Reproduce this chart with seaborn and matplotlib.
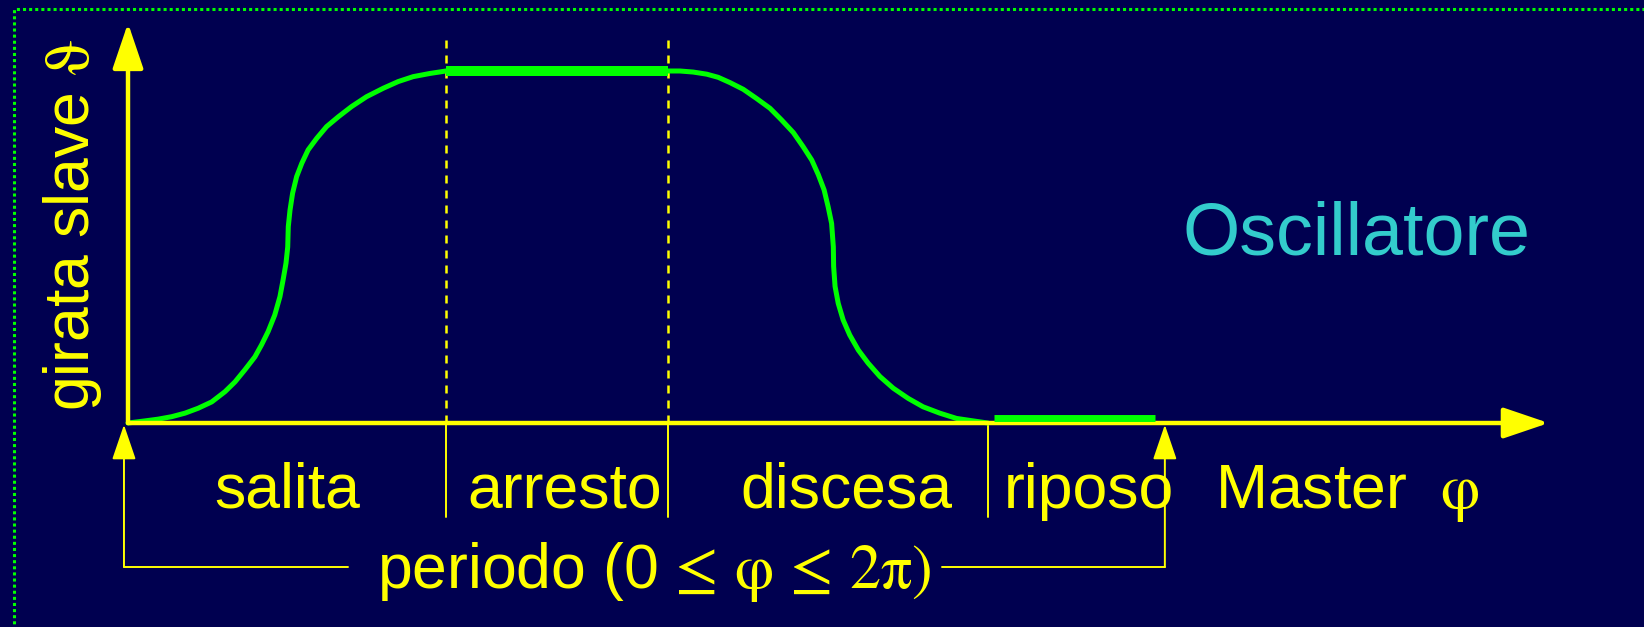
import matplotlib
matplotlib.use("Agg")
import matplotlib.pyplot as plt
import pandas as pd
import seaborn as sns
from matplotlib.patches import Rectangle

# master angle phi (deg) and slave lift (normalised)
salita_phi = [0, 5.9, 10.5, 15.2, 19.8, 24.4, 29.1, 33.7, 37.2, 40.6, 44.1, 46.4,
              48.7, 51.0, 52.8, 53.9, 54.9, 55.5,
              55.7, 56.3, 57.2, 58.6, 60.4, 62.6, 65.6, 69.0, 73.1, 77.7, 82.9,
              88.7, 93.9, 99.1, 104.9, 110.5]
salita_lift = [0, 0.006, 0.011, 0.018, 0.028, 0.042, 0.060, 0.089, 0.117, 0.151,
               0.188, 0.222, 0.260, 0.307, 0.359, 0.407, 0.454, 0.5,
               0.558, 0.605, 0.653, 0.700, 0.738, 0.776, 0.809, 0.842, 0.870,
               0.899, 0.927, 0.951, 0.970, 0.984, 0.993, 1.0]
discesa_phi = [187.6, 191.8, 196.4, 201.1, 205.1, 209.2, 213.8, 218.4, 223.1, 227.1,
               231.2, 234.6, 237.6, 239.9, 241.9, 243.3, 244.5, 245.1,
               245.2, 245.7, 246.8, 248.5, 250.8, 253.8, 257.2, 261.3, 265.9,
               271.1, 276.3, 282.1, 287.9, 293.7, 298.8]
discesa_lift = [1.0, 1.0, 0.997, 0.991, 0.982, 0.967, 0.948, 0.922, 0.894, 0.861,
                0.825, 0.785, 0.747, 0.705, 0.662, 0.614, 0.567, 0.5,
                0.445, 0.388, 0.340, 0.293, 0.250, 0.207, 0.170, 0.132, 0.099,
                0.070, 0.046, 0.028, 0.013, 0.006, 0]
arresto_phi = [110.5, 187.6]
arresto_lift = [1.0, 1.0]
riposo_phi = [301, 357]
riposo_lift = [0.015, 0.015]

boundaries = [110.5, 187.6, 298.8]
phase_names = ["salita", "arresto", "discesa", "riposo"]
phase_label_x = [55.4, 151.8, 249.8, 333.9]
period_x = [-1.4, 360.3]

BG = "#000050"
YEL = "#FFFF00"
GRN = "#00FF00"


def arrow(ax, tail, tip, lw, hl, hw):
    ax.annotate("", xy=tip, xytext=tail, annotation_clip=False,
                arrowprops=dict(arrowstyle="-|>,head_length=%g,head_width=%g" % (hl, hw),
                                color=YEL, lw=lw, shrinkA=0, shrinkB=0,
                                mutation_scale=1))


def main():
    sns.set_theme(style="white", rc={"axes.facecolor": BG, "figure.facecolor": BG})
    plt.rcParams['font.family'] = ['Liberation Sans', 'DejaVu Sans']
    plt.rcParams['mathtext.fontset'] = 'stix'

    fig = plt.figure(figsize=(16.44, 6.27), dpi=100)
    ax = fig.add_axes([0, 0, 1, 1])
    ax.set_xlim(-44.48, 526.8)
    ax.set_ylim(-0.5795, 1.2017)
    ax.axis("off")

    curve = pd.DataFrame({"phi": salita_phi + arresto_phi + discesa_phi,
                          "lift": salita_lift + arresto_lift + discesa_lift})
    sns.lineplot(data=curve, x="phi", y="lift", sort=False, estimator=None,
                 color=GRN, lw=3.6, ax=ax, zorder=3)
    sns.lineplot(x=arresto_phi, y=arresto_lift, color=GRN, lw=7.2, ax=ax,
                 zorder=4, solid_capstyle="butt")
    sns.lineplot(x=riposo_phi, y=riposo_lift, color=GRN, lw=5, ax=ax,
                 zorder=4, solid_capstyle="butt")

    # phase boundaries
    for b in boundaries[:2]:
        ax.plot([b, b], [0, 1.09], color=YEL, lw=1.8, dashes=(3.2, 2.8), zorder=2)
    for b in boundaries:
        ax.plot([b, b], [0, -0.267], color=YEL, lw=1.4, zorder=2)

    # axes with arrows
    arrow(ax, (0, 0), (493.7, 0), 3.2, 28, 9.5)
    arrow(ax, (0, 0), (0, 1.136), 3.2, 28, 9.5)

    # period bracket
    for px in period_x:
        arrow(ax, (px, -0.409), (px, -0.005), 1.4, 22, 7.5)
    ax.plot([period_x[0], 76.4], [-0.409, -0.409], color=YEL, lw=1.4)
    ax.plot([282.7, period_x[1]], [-0.409, -0.409], color=YEL, lw=1.4)
    ax.text(182.8, -0.469,
            r"periodo (0$\,\leq\,\mathrm{\varphi}\,\leq\,2\mathrm{\pi})$",
            color=YEL, fontsize=45, ha="center", va="baseline")

    for name, x in zip(phase_names, phase_label_x):
        ax.text(x, -0.241, name, color=YEL, fontsize=45, ha="center", va="baseline")
    ax.text(377.8, -0.241, r"Master  $\mathrm{\varphi}$", color=YEL, fontsize=45,
            ha="left", va="baseline")

    ax.text(-19.3, 0.5625, r"girata slave $\mathrm{\vartheta}$", color=YEL,
            fontsize=45, rotation=90, ha="center", va="center")
    ax.text(427, 0.48, "Oscillatore", color="#33CCCC", fontsize=53,
            ha="center", va="baseline")

    # dotted frame of the slide
    fig.add_artist(Rectangle((13.5 / 1644, -0.2), 1.2, 1.2 - 8.5 / 627,
                             transform=fig.transFigure, fill=False,
                             edgecolor=GRN, lw=2.2, linestyle=(0, (1, 1))))

    fig.savefig("out.png", dpi=100, facecolor=BG)


if __name__ == "__main__":
    main()
